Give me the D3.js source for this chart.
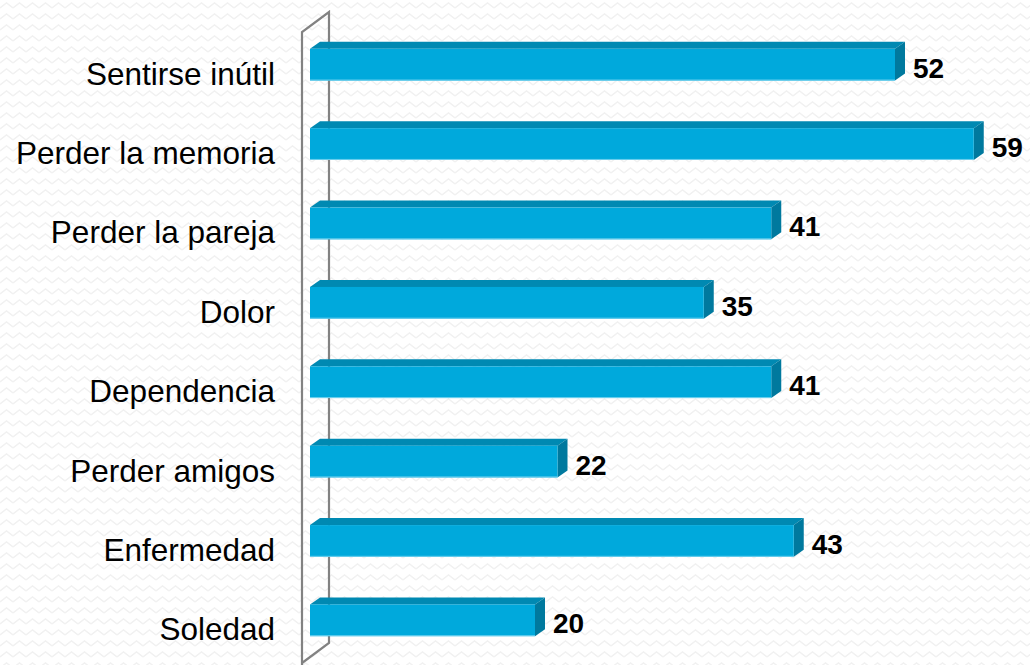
<!DOCTYPE html>
<html>
<head>
<meta charset="utf-8">
<script src="https://d3js.org/d3.v7.min.js"></script>
<style>
  html, body { margin: 0; padding: 0; background: #fff; }
  svg { display: block; font-family: "Liberation Sans", Arial, sans-serif; }
</style>
</head>
<body>
<svg id="chart" width="1030" height="665"></svg>
<script>
// data, top to bottom
var categories = ["Sentirse inútil", "Perder la memoria", "Perder la pareja", "Dolor",
                  "Dependencia", "Perder amigos", "Enfermedad", "Soledad"];
var values = [52, 59, 41, 35, 41, 22, 43, 20];

var width = 1030, height = 665;
var svg = d3.select("#chart");

// faint zigzag background
var defs = svg.append("defs");
var pat = defs.append("pattern")
    .attr("id", "zig")
    .attr("patternUnits", "userSpaceOnUse")
    .attr("width", 13).attr("height", 11);
pat.append("path")
    .attr("d", "M0,8 L6.5,3 L13,8")
    .attr("fill", "none")
    .attr("stroke", "#f1f1f1")
    .attr("stroke-width", 1.4);
svg.append("rect").attr("width", width).attr("height", height).attr("fill", "url(#zig)");

var x = d3.scaleLinear().domain([0, 60]).range([310, 985]);
var y = d3.scaleBand().domain(categories).range([25, 660]).paddingInner(0.6).paddingOuter(0.3);

// 3d offsets
var wallDx = 27, wallDy = -20;
var barDx = 10, barDy = -7;

// back wall outline
var wx = 302, wTop = 32, wBot = 663;
svg.append("path")
    .attr("d", "M" + wx + "," + (wBot + 10) + " L" + wx + "," + wTop +
               " L" + (wx + wallDx) + "," + (wTop + wallDy) +
               " L" + (wx + wallDx) + "," + (wBot + wallDy) +
               " L" + wx + "," + wBot)
    .attr("fill", "none")
    .attr("stroke", "#828282")
    .attr("stroke-width", 2.2);

var rows = values.map(function(v, i) { return {cat: categories[i], val: v}; });

var g = svg.selectAll(".bar").data(rows).enter().append("g").attr("class", "bar");

// top face
g.append("path")
    .attr("d", function(d) {
      var x0 = x(0), x1 = x(d.val), t = y(d.cat);
      return "M" + x0 + "," + t + " L" + (x0 + barDx) + "," + (t + barDy) +
             " L" + (x1 + barDx) + "," + (t + barDy) + " L" + x1 + "," + t + "Z";
    })
    .attr("fill", "#0089b2");

// side face
g.append("path")
    .attr("d", function(d) {
      var x1 = x(d.val), t = y(d.cat), b = t + y.bandwidth();
      return "M" + x1 + "," + t + " L" + (x1 + barDx) + "," + (t + barDy) +
             " L" + (x1 + barDx) + "," + (b + barDy) + " L" + x1 + "," + b + "Z";
    })
    .attr("fill", "#00799e");

// front face
g.append("rect")
    .attr("x", x(0))
    .attr("y", function(d) { return y(d.cat); })
    .attr("width", function(d) { return x(d.val) - x(0); })
    .attr("height", y.bandwidth())
    .attr("fill", "#00a9dc");

g.append("line")
    .attr("x1", x(0))
    .attr("x2", function(d) { return x(d.val); })
    .attr("y1", function(d) { return y(d.cat) + y.bandwidth() - 0.5; })
    .attr("y2", function(d) { return y(d.cat) + y.bandwidth() - 0.5; })
    .attr("stroke", "#6fd0ee")
    .attr("stroke-width", 1);

// value labels
g.append("text")
    .attr("x", function(d) { return x(d.val) + 18; })
    .attr("y", function(d) { return y(d.cat) + y.bandwidth() / 2 + 13; })
    .attr("font-size", 28)
    .attr("font-weight", "bold")
    .attr("fill", "#000")
    .text(function(d) { return d.val; });

// category labels
svg.selectAll(".cat").data(categories).enter().append("text")
    .attr("class", "cat")
    .attr("x", 275)
    .attr("y", function(d) { return y(d) + y.bandwidth() / 2 + 20; })
    .attr("text-anchor", "end")
    .attr("font-size", 31.5)
    .attr("fill", "#000")
    .text(function(d) { return d; });
</script>
</body>
</html>
